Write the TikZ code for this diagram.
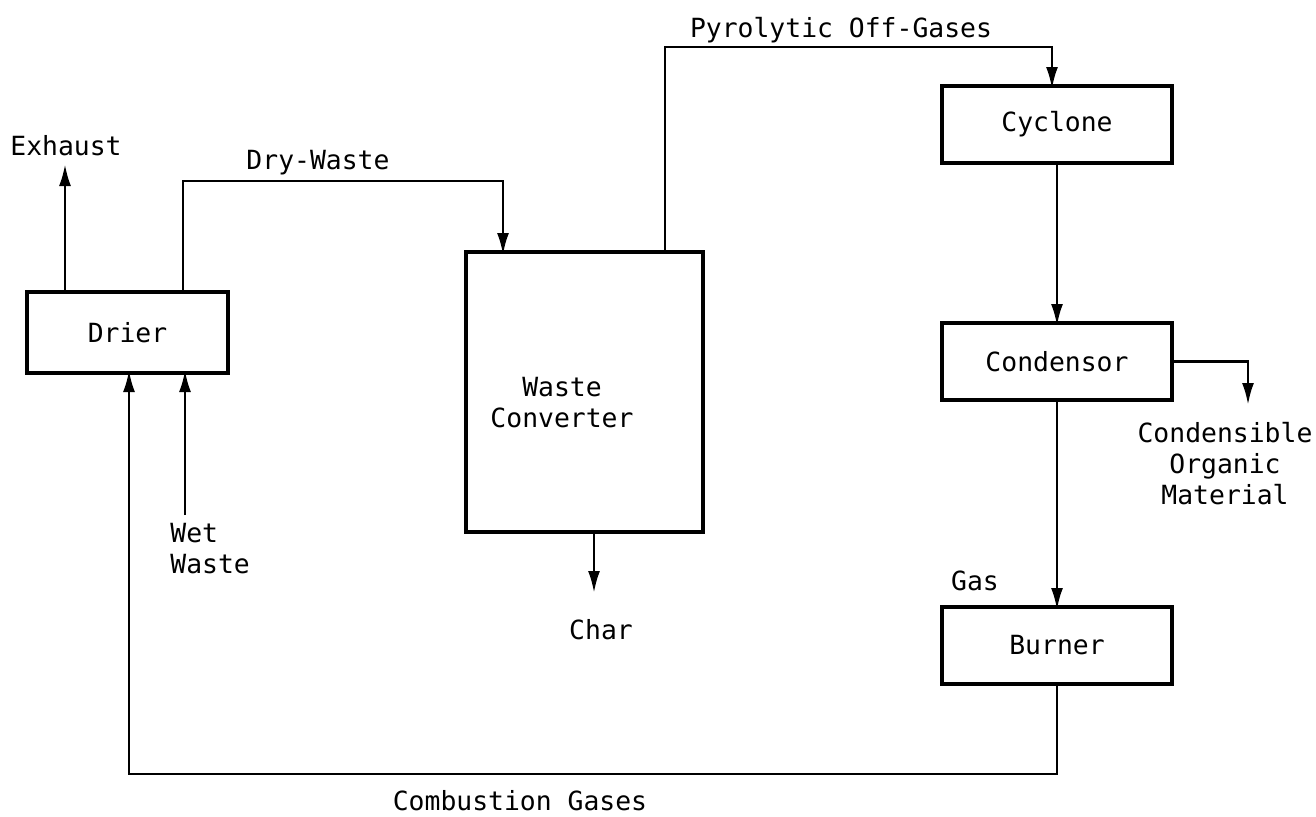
\documentclass[tikz,border=0pt]{standalone}
\usepackage{fontspec}
\setmainfont{DejaVu Sans Mono}
\usetikzlibrary{arrows.meta, positioning}

\begin{document}
\begin{tikzpicture}[
    x=0.5pt, y=-0.5pt,
    node distance=80pt,
    every node/.style={font=\fontsize{13.2}{15.5}\selectfont},
    unit/.style={rectangle, draw=black, line width=2pt, minimum width=115pt, minimum height=38.5pt, inner sep=0pt, outer sep=0pt},
    tag/.style={inner sep=0pt},
    flow/.style={-{Latex[length=11pt, width=6pt]}, line width=1.4pt, draw=black, shorten >=-1.5pt}
]
    \useasboundingbox (0,0) rectangle (1316,816);

    \node[unit, minimum width=100.5pt, minimum height=40.5pt] (drier) at (127.5,332.5) {Drier};
    \node[unit, minimum width=118.5pt, minimum height=140pt] (conv) at (584.5,392) {};
    \node[tag, align=center] (convtext) at (562,403) {Waste\\Converter};
    \node[unit] (cyclone) at (1057,124.5) {Cyclone};
    \node[unit, below=of cyclone] (condensor) {Condensor};
    \node[unit, below=103.5pt of condensor] (burner) {Burner};

    \node[tag, anchor=base] (exhaust) at (66,155) {Exhaust};
    \node[tag, anchor=base] (drywaste) at (318,169) {Dry-Waste};
    \node[tag, anchor=base] (offgas) at (841,37) {Pyrolytic Off-Gases};
    \node[tag, anchor=base] (char) at (601,639) {Char};
    \node[tag, anchor=base] (gas) at (975,590) {Gas};
    \node[tag, anchor=base] (combgas) at (520,810) {Combustion Gases};
    \node[tag, anchor=north west, align=left] (wetwaste) at (170,523) {Wet\\Waste};
    \node[tag, anchor=north, align=center] (organic) at (1225,422) {Condensible\\Organic\\Material};

    \coordinate (exhtip) at (65,167);
    \coordinate (dwleft) at (183,181);
    \coordinate (dwright) at (503,181);
    \coordinate (pgleft) at (665,47);
    \coordinate (pgright) at (1052,47);
    \coordinate (chartip) at (594,590);
    \coordinate (orgtip) at (1248,402);
    \coordinate (wetend) at (185,515);
    \coordinate (recycle) at (129,774);

    \draw[flow] (drier.north -| exhtip) -- (exhtip);
    \draw[flow] (drier.north -| dwleft) -- (dwleft) -- (dwright) -- (dwright |- conv.north);
    \draw[flow] (conv.north -| pgleft) -- (pgleft) -- (pgright) -- (pgright |- cyclone.north);
    \draw[flow] (conv.south -| chartip) -- (chartip);
    \draw[flow] (cyclone) -- (condensor);
    \draw[flow] (condensor.east) -| (orgtip);
    \draw[flow] (condensor) -- (burner);
    \draw[flow] (wetend) -- (wetend |- drier.south);
    \draw[flow] (burner.south) |- (recycle) -- (recycle |- drier.south);
\end{tikzpicture}
\end{document}
